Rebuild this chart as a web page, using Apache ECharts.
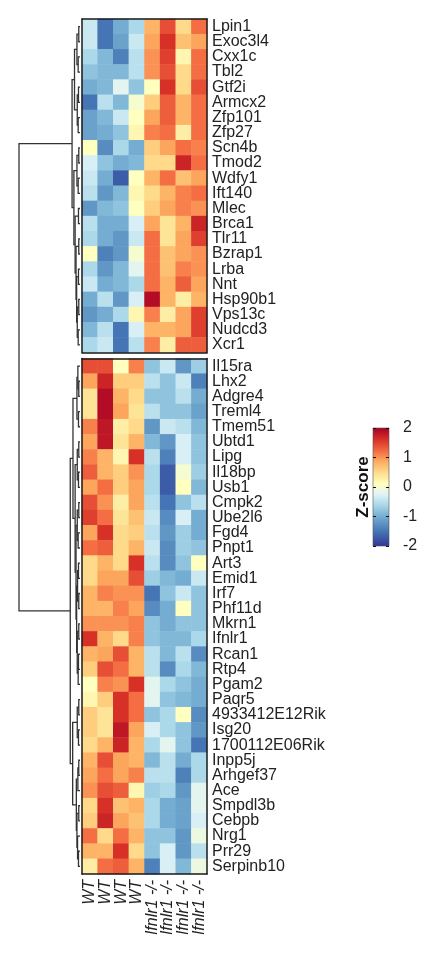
<!DOCTYPE html>
<html>
<head>
<meta charset="utf-8">
<script src="https://cdn.jsdelivr.net/npm/echarts@6/dist/echarts.min.js"></script>
<style>
html,body{margin:0;padding:0;background:#fff;}
#chart{width:429px;height:958px;}
</style>
</head>
<body>
<div id="chart"></div>
<script>
// ---------------- DATA ----------------
const sampleLabels = ['WT','WT','WT','WT','Ifnlr1 -/-','Ifnlr1 -/-','Ifnlr1 -/-','Ifnlr1 -/-'];

const genesTop = ['Lpin1','Exoc3l4','Cxx1c','Tbl2','Gtf2i','Armcx2','Zfp101','Zfp27','Scn4b','Tmod2','Wdfy1','Ift140','Mlec','Brca1','Tlr11','Bzrap1','Lrba','Nnt','Hsp90b1','Vps13c','Nudcd3','Xcr1'];

const valuesTop = [
  [-0.4,-1.5,-1.0,-0.6, 0.8, 1.4, 0.5, 1.2],
  [-0.4,-1.5,-1.1,-0.4, 0.9, 1.6, 0.7, 0.9],
  [-0.6,-0.9,-1.4,-0.5, 1.0, 1.5, 0.2, 1.2],
  [-0.8,-0.9,-0.9,-0.5, 1.0, 1.4, 0.5, 1.2],
  [-1.0,-0.9,-0.2,-0.8, 0.1, 1.6, 0.5, 1.4],
  [-1.5,-0.5,-0.9, 0.0, 0.6, 1.3, 0.8, 1.2],
  [-1.1,-0.9,-0.4, 0.1, 0.9, 1.3, 0.8, 1.2],
  [-1.1,-1.0,-0.8, 0.2, 1.1, 1.2, 0.3, 1.2],
  [ 0.1,-1.3,-0.6,-1.0, 0.6, 0.9, 1.2, 1.1],
  [-0.3,-0.8,-1.0,-0.9, 0.5, 0.5, 1.7, 1.2],
  [-0.4,-1.0,-1.7, 0.1, 0.8, 1.2, 0.7, 0.9],
  [-0.5,-1.2,-0.9, 0.2, 0.5, 0.8, 1.1, 1.2],
  [-1.2,-0.9,-0.8, 0.1, 0.6, 0.9, 1.1, 1.0],
  [-0.5,-1.0,-1.0,-0.3, 0.9, 0.4, 0.8, 1.7],
  [-0.6,-1.0,-1.2,-0.4, 1.2, 0.4, 0.9, 1.5],
  [ 0.1,-1.4,-1.2, 0.0, 1.2, 0.7, 0.9, 1.0],
  [-0.6,-1.2,-0.9,-0.2, 1.2, 0.7, 1.1, 1.0],
  [-0.4,-1.0,-0.9,-0.6, 1.2, 0.8, 1.3, 0.9],
  [-1.0,-0.5,-1.2,-0.3, 1.9, 0.8, 0.3, 0.8],
  [-1.2,-1.0,-0.6, 0.2, 1.1, 0.3, 0.9, 1.5],
  [-0.9,-0.5,-1.5,-0.3, 0.8, 0.8, 0.9, 1.5],
  [-0.6,-0.4,-1.5,-0.5, 1.1, 0.3, 1.3, 1.3]
];

const genesBottom = ['Il15ra','Lhx2','Adgre4','Treml4','Tmem51','Ubtd1','Lipg','Il18bp','Usb1','Cmpk2','Ube2l6','Fgd4','Pnpt1','Art3','Emid1','Irf7','Phf11d','Mkrn1','Ifnlr1','Rcan1','Rtp4','Pgam2','Paqr5','4933412E12Rik','Isg20','1700112E06Rik','Inpp5j','Arhgef37','Ace','Smpdl3b','Cebpb','Nrg1','Prr29','Serpinb10'];

const valuesBottom = [
  [1.4,1.4,0.1,1.1,-0.8,-0.4,-1.2,-0.7],
  [0.9,1.7,0.6,0.6,-0.5,-0.8,-0.4,-1.4],
  [0.4,1.9,0.8,0.5,-0.8,-0.8,-0.5,-1.0],
  [0.4,1.9,0.9,0.4,-0.5,-0.8,-0.8,-1.1],
  [1.1,1.8,0.3,0.5,-1.2,-0.4,-0.5,-0.9],
  [0.9,1.8,0.4,0.8,-0.9,-1.2,-0.3,-0.8],
  [1.1,0.8,0.2,1.6,-0.5,-1.4,-0.3,-0.8],
  [1.3,0.8,0.6,1.0,-0.6,-1.7, 0.0,-0.7],
  [0.9,1.2,0.6,0.9,-0.6,-1.7, 0.1,-0.9],
  [1.4,1.0,0.3,0.9,-0.5,-1.5,-0.8,-0.5],
  [1.5,1.2,0.4,0.7,-0.4,-1.3,-0.3,-1.0],
  [0.9,1.6,0.5,0.6,-0.5,-1.2,-0.7,-1.0],
  [1.2,1.3,0.5,0.8,-0.4,-1.3,-0.7,-0.8],
  [0.5,0.8,0.5,1.6,-0.5,-1.3,-0.8, 0.1],
  [0.5,0.9,0.9,1.4,-0.7,-0.9,-1.0,-0.4],
  [0.8,1.1,1.0,1.0,-1.5,-0.8,-0.4,-0.8],
  [0.8,0.8,1.1,0.9,-1.3,-1.0, 0.1,-0.8],
  [1.0,1.0,1.0,1.1,-0.8,-1.0,-0.8,-0.8],
  [1.6,0.8,0.5,1.1,-0.8,-0.9,-0.9,-0.6],
  [0.8,0.9,1.4,0.8,-0.5,-0.9,-0.5,-1.3],
  [0.6,1.4,1.2,0.8,-0.5,-1.3,-0.6,-0.9],
  [0.1,1.1,1.0,1.6,-0.2,-0.6,-0.8,-1.0],
  [0.2,0.6,1.6,1.2,-0.2,-0.8,-0.9,-1.0],
  [0.6,0.4,1.6,1.2,-0.8,-0.6, 0.1,-1.3],
  [0.6,0.4,1.8,0.9,-0.3,-0.6,-0.8,-1.2],
  [0.5,0.8,1.7,0.8,-0.6,-0.2,-0.8,-1.5],
  [0.8,1.4,0.9,0.8,-0.9,-0.5,-1.0,-0.6],
  [0.9,1.2,0.9,1.1,-0.5,-0.5,-1.4,-0.6],
  [1.0,1.4,1.3,0.2,-0.7,-0.6,-1.2,-0.2],
  [0.5,1.6,0.7,0.8,-0.6,-1.0,-1.1,-0.2],
  [0.6,1.7,0.9,0.7,-0.6,-1.0,-1.1,-0.3],
  [1.2,0.5,1.2,0.8,-0.8,-0.8,-1.2,-0.1],
  [0.8,0.8,1.6,0.5,-0.8,-0.3,-1.2,-0.5],
  [0.3,1.2,1.3,0.8,-1.4,-0.3,-0.9,-0.1]
];

// dendrogram structure: [left, right, height]; leaves are row indices within each block
const treeTop = [
  [[[0,1,0.2],[2,3,0.3],0.5],[[4,5,0.25],[6,7,0.3],0.45],0.9],
  [
    [[8,9,0.2],[10,11,0.3],0.5],
    [[12,13,0.25],[[14,15,0.2],[[16,17,0.25],[[18,19,0.2],[20,21,0.3],0.45],0.55],0.65],0.8],
    1.0
  ],
  1.3
];
const treeBottom = [
  [
    [[0,[1,2,0.2],0.35],[3,4,0.25],0.5],
    [[[5,6,0.2],[7,8,0.25],0.45],[[[9,10,0.2],[11,12,0.3],0.45],[[[13,14,0.25],[15,16,0.2],0.4],[[17,18,0.2],[[19,20,0.25],21,0.3],0.45],0.55],0.65],0.8],
    1.15
  ],
  [
    [[22,23,0.2],[24,25,0.25],0.45],
    [[[26,27,0.2],28,0.35],[[29,30,0.2],[31,[32,33,0.25],0.4],0.5],0.6],
    1.2
  ],
  1.6
];
const rootHeight = 10;

// ---------------- STYLE / LAYOUT ----------------
const colorStops = [
  [-2.0,'#313695'],[-1.5,'#4575b4'],[-1.0,'#74add1'],[-0.6,'#abd9e9'],[-0.25,'#e0f3f8'],
  [0.1,'#ffffbf'],[0.45,'#fee090'],[0.85,'#fdae61'],[1.2,'#f46d43'],[1.6,'#d73027'],[2.0,'#a50026']
];
function hexToRgb(h){return [parseInt(h.substr(1,2),16),parseInt(h.substr(3,2),16),parseInt(h.substr(5,2),16)];}
function colorFor(v){
  if (v <= colorStops[0][0]) return colorStops[0][1];
  for (let i=1;i<colorStops.length;i++){
    if (v <= colorStops[i][0]){
      const a=colorStops[i-1], b=colorStops[i];
      const t=(v-a[0])/(b[0]-a[0]);
      const ca=hexToRgb(a[1]), cb=hexToRgb(b[1]);
      const c=ca.map((x,k)=>Math.round(x+(cb[k]-x)*t));
      return 'rgb('+c.join(',')+')';
    }
  }
  return colorStops[colorStops.length-1][1];
}

const FONT = '"Liberation Sans", Arial, sans-serif';
const hmLeft = 82, hmWidth = 125;
const topY = 19, rowH = 15.16, gapPx = 6;
const nTop = genesTop.length, nBot = genesBottom.length;
const topH = nTop*rowH, botTop = topY + topH + gapPx, botH = nBot*rowH;
const gapUnits = gapPx/rowH;
const totalUnits = nTop + gapUnits + nBot;
const lineCol = '#1a1a1a';

function heatData(vals){
  const out=[];
  vals.forEach((row,i)=>row.forEach((v,j)=>{
    out.push({value:[j,i,v], itemStyle:{color:colorFor(v)}});
  }));
  return out;
}

// dendrogram links
const links = [];
function layoutTree(node, offset){
  if (typeof node === 'number') return {y: offset + node + 0.5, h: 0};
  const a = layoutTree(node[0], offset), b = layoutTree(node[1], offset), h = node[2];
  links.push({coords:[[a.h,a.y],[h,a.y],[h,b.y],[b.h,b.y]]});
  return {y:(a.y+b.y)/2, h:h};
}
const nt = layoutTree(treeTop, 0);
const nb = layoutTree(treeBottom, nTop + gapUnits);
links.push({coords:[[nt.h,nt.y],[rootHeight,nt.y],[rootHeight,nb.y],[nb.h,nb.y]]});

// colour bar gradient
const gradStops = colorStops.map(s=>({offset:(2-s[0])/4, color:s[1]})).sort((a,b)=>a.offset-b.offset);

const borderAxisLine = {show:true, lineStyle:{color:lineCol, width:1.5}};
function catAxis(gridIndex, data, extra){
  return Object.assign({type:'category', gridIndex, data, z:10,
    axisLine:borderAxisLine, axisTick:{show:false}, axisLabel:{show:false}, splitLine:{show:false}}, extra||{});
}

const option = {
  backgroundColor:'#ffffff',
  animation:false,
  textStyle:{fontFamily:FONT},
  grid:[
    {left:hmLeft, top:topY, width:hmWidth, height:topH},
    {left:hmLeft, top:botTop, width:hmWidth, height:botH},
    {left:19, top:topY, width:61, height:totalUnits*rowH},
    {left:373, top:428, width:16, height:118}
  ],
  xAxis:[
    catAxis(0, sampleLabels, {position:'bottom'}),
    catAxis(0, sampleLabels, {position:'top'}),
    catAxis(1, sampleLabels, {position:'bottom',
      axisLabel:{show:true, rotate:90, fontSize:16, fontStyle:'italic', color:'#222', margin:6, fontFamily:FONT, interval:0}}),
    catAxis(1, sampleLabels, {position:'top'}),
    {type:'value', gridIndex:2, min:0, max:rootHeight, inverse:true, show:false},
    {type:'category', gridIndex:3, data:['z'], show:false}
  ],
  yAxis:[
    catAxis(0, genesTop, {position:'right', inverse:true,
      axisLabel:{show:true, fontSize:16, color:'#222', margin:5, fontFamily:FONT, interval:0}}),
    catAxis(0, genesTop, {position:'left', inverse:true}),
    catAxis(1, genesBottom, {position:'right', inverse:true,
      axisLabel:{show:true, fontSize:16, color:'#222', margin:5, fontFamily:FONT, interval:0}}),
    catAxis(1, genesBottom, {position:'left', inverse:true}),
    {type:'value', gridIndex:2, min:0, max:totalUnits, inverse:true, show:false},
    {type:'value', gridIndex:3, min:-2, max:2, interval:1, position:'right',
      axisLine:{show:false}, splitLine:{show:false},
      axisTick:{show:true, inside:true, length:3, lineStyle:{color:'#111', width:1}},
      axisLabel:{show:true, fontSize:16, color:'#222', margin:14, fontFamily:FONT}, z:10},
    {type:'value', gridIndex:3, min:-2, max:2, interval:1, position:'left',
      axisLine:{show:false}, splitLine:{show:false},
      axisTick:{show:true, inside:true, length:3, lineStyle:{color:'#111', width:1}},
      axisLabel:{show:false},
      name:'Z-score', nameLocation:'middle', nameRotate:90, nameGap:1,
      nameTextStyle:{fontSize:17, fontWeight:'bold', color:'#111', fontFamily:FONT}, z:10}
  ],
  series:[
    {type:'heatmap', xAxisIndex:0, yAxisIndex:0, data:heatData(valuesTop), emphasis:{disabled:true}},
    {type:'heatmap', xAxisIndex:2, yAxisIndex:2, data:heatData(valuesBottom), emphasis:{disabled:true}},
    {type:'lines', coordinateSystem:'cartesian2d', xAxisIndex:4, yAxisIndex:4, polyline:true,
      lineStyle:{color:'#333', width:1.3, opacity:1}, data:links, silent:true},
    {type:'custom', xAxisIndex:5, yAxisIndex:5, data:[[0,2,-2]], silent:true,
      renderItem:function(params, api){
        const p1 = api.coord([0, api.value(1)]);
        const p2 = api.coord([0, api.value(2)]);
        const w = api.size([1,0])[0];
        return {type:'rect', shape:{x:p1[0]-w/2, y:p1[1], width:w, height:p2[1]-p1[1]},
          style:{fill:new echarts.graphic.LinearGradient(0,0,0,1,gradStops), stroke:'#555', lineWidth:0.6}};
      }}
  ]
};

const chart = echarts.init(document.getElementById('chart'), null, {renderer:'canvas'});
chart.setOption(option);
</script>
</body>
</html>
